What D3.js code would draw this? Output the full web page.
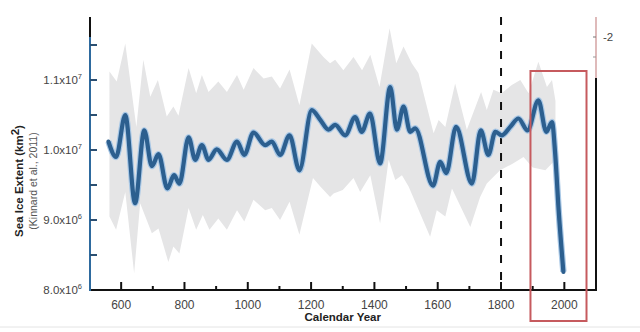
<!DOCTYPE html>
<html lang="en">
<head>
    <meta charset="UTF-8">
    <title>Sea Ice Extent</title>
    <script src="https://cdn.jsdelivr.net/npm/d3@7/dist/d3.min.js"></script>
    <style>
        body { margin: 0; background: #fff; }
        svg text { font-family: "Liberation Sans", Arial, sans-serif; }
        .tick-label { font-size: 11.5px; fill: #444; }
        .x-label { font-size: 12px; fill: #444; }
        .axis-title { font-size: 11.5px; font-weight: bold; fill: #222; }
    </style>
</head>
<body>
    <svg id="chart" width="640" height="332"></svg>
    <script>
        // reconstruction (x 10^6 km2)
        const lineYears = [560, 584, 613, 644, 673, 697, 718, 746, 767, 784, 813, 834, 855, 876, 902, 934, 966, 989,
            1018, 1055, 1076, 1102, 1132, 1163, 1202, 1229, 1255, 1276, 1308, 1339, 1360, 1386, 1418, 1450, 1471,
            1492, 1513, 1529, 1585, 1608, 1627, 1658, 1708, 1736, 1760, 1782, 1803, 1829, 1855, 1884, 1918, 1943,
            1961, 1971, 1982, 1997]
        const lineValues = [10.12, 9.90, 10.50, 9.24, 10.28, 9.77, 9.94, 9.45, 9.64, 9.52, 10.18, 9.86, 10.07, 9.86,
            10.01, 9.86, 10.12, 9.93, 10.25, 10.07, 10.12, 9.93, 10.21, 9.71, 10.57, 10.43, 10.29, 10.36, 10.21,
            10.47, 10.26, 10.52, 9.81, 10.90, 10.29, 10.62, 10.26, 10.31, 9.49, 9.83, 9.67, 10.33, 9.52, 10.28, 9.93,
            10.26, 10.21, 10.33, 10.45, 10.28, 10.71, 10.26, 10.40, 9.95, 9.14, 8.26]

        // uncertainty envelope
        const upperYears = [563, 586, 613, 648, 670, 692, 716, 744, 765, 781, 813, 837, 855, 876, 907, 934, 966, 987,
            1018, 1050, 1076, 1102, 1132, 1163, 1202, 1239, 1260, 1276, 1302, 1334, 1361, 1387, 1416, 1448, 1469,
            1492, 1518, 1539, 1587, 1603, 1624, 1655, 1692, 1737, 1755, 1776, 1802, 1834, 1861, 1887, 1918, 1945,
            1961, 1972]
        const upperValues = [11.12, 10.98, 11.52, 10.33, 11.29, 10.76, 11.00, 10.48, 10.62, 10.49, 11.17, 10.81, 11.07,
            10.83, 10.98, 10.83, 11.07, 10.86, 11.17, 11.02, 11.05, 10.88, 11.15, 10.64, 11.52, 11.33, 11.24, 11.29,
            11.14, 11.33, 11.14, 11.36, 10.90, 11.74, 11.24, 11.48, 11.24, 11.10, 10.24, 10.43, 10.33, 10.95, 10.29,
            10.83, 10.57, 10.86, 10.81, 10.93, 11.00, 10.81, 11.26, 10.90, 11.00, 10.70]
        const lowerYears = [563, 584, 613, 641, 660, 697, 718, 749, 765, 784, 813, 837, 858, 879, 907, 934, 966, 989,
            1018, 1055, 1076, 1102, 1132, 1163, 1206, 1229, 1260, 1271, 1300, 1334, 1355, 1387, 1418, 1445, 1466,
            1487, 1508, 1576, 1597, 1624, 1645, 1703, 1734, 1755, 1797, 1839, 1871, 1900, 1940, 1972]
        const lowerValues = [9.05, 8.86, 9.40, 8.24, 9.24, 8.81, 8.88, 8.40, 8.62, 8.52, 9.17, 8.86, 9.07, 8.86, 9.02,
            8.86, 9.14, 8.98, 9.29, 9.14, 9.17, 9.00, 9.26, 8.79, 9.60, 9.48, 9.33, 9.38, 9.43, 9.60, 9.40, 9.64,
            8.95, 9.86, 9.57, 9.64, 9.48, 8.76, 9.14, 9.05, 9.45, 8.90, 9.33, 9.52, 9.71, 9.81, 9.90, 9.75, 9.71, 9.86]

        const xTicks = [600, 800, 1000, 1200, 1400, 1600, 1800, 2000]
        const xMinorTicks = [700, 900, 1100, 1300, 1500, 1700, 1900]
        const yTicks = [8, 9, 10, 11]
        const yTickMantissa = ["8.0", "9.0", "1.0", "1.1"]
        const yTickExp = ["6", "6", "7", "7"]
        const yMinorTicks = [8.5, 9.5, 10.5, 11.5]
        const markYear = 1800
        const boxYears = [1893, 2070]

        const svg = d3.select("#chart")
        const x = d3.scaleLinear().domain([500, 2100]).range([89.5, 596])
        const y = d3.scaleLinear().domain([8, 11.9]).range([290, 17])

        // faint frame of the original figure
        svg.append("line").attr("x1", 0).attr("x2", 640).attr("y1", 327).attr("y2", 327)
            .attr("stroke", "#e4e4e4").attr("stroke-width", 1)

        // grey envelope
        const band = upperYears.map((d, i) => [d, upperValues[i]])
            .concat(lowerYears.map((d, i) => [d, lowerValues[i]]).reverse())
        svg.append("path")
            .attr("d", d3.line().x(d => x(d[0])).y(d => y(d[1]))(band) + "Z")
            .attr("fill", "#e5e5e6")

        // dashed marker
        svg.append("line")
            .attr("x1", x(markYear)).attr("x2", x(markYear)).attr("y1", 17).attr("y2", 290)
            .attr("stroke", "#111").attr("stroke-width", 2).attr("stroke-dasharray", "8,9")

        // main curve
        const pts = lineYears.map((d, i) => [d, lineValues[i]])
        const curve = d3.line().x(d => x(d[0])).y(d => y(d[1])).curve(d3.curveMonotoneX)
        svg.append("path").attr("d", curve(pts)).attr("fill", "none")
            .attr("stroke", "#a9c8e6").attr("stroke-width", 6.5).attr("stroke-linejoin", "round")
        svg.append("path").attr("d", curve(pts)).attr("fill", "none")
            .attr("stroke", "#2c5f8f").attr("stroke-width", 4.2).attr("stroke-linejoin", "round")
            .attr("stroke-linecap", "round")

        // x axis, ticks pointing up
        const xAxis = svg.append("g").attr("transform", "translate(0,290)")
        xAxis.append("line").attr("x1", 89).attr("x2", 597).attr("stroke", "#111").attr("stroke-width", 2)
        xAxis.selectAll(".maj").data(xTicks).enter().append("line")
            .attr("x1", d => x(d)).attr("x2", d => x(d)).attr("y1", 0).attr("y2", -8)
            .attr("stroke", "#111").attr("stroke-width", 2)
        xAxis.selectAll(".min").data(xMinorTicks).enter().append("line")
            .attr("x1", d => x(d)).attr("x2", d => x(d)).attr("y1", 0).attr("y2", -4)
            .attr("stroke", "#111").attr("stroke-width", 2)
        xAxis.selectAll(".lab").data(xTicks).enter().append("text")
            .attr("class", "x-label").attr("x", d => x(d)).attr("y", 19)
            .attr("text-anchor", "middle").text(d => d)
        svg.append("text").attr("class", "axis-title").attr("x", x(1300)).attr("y", 321)
            .attr("text-anchor", "middle").text("Calendar Year")

        // y axis
        const yAxis = svg.append("g").attr("transform", "translate(90,0)")
        yAxis.append("line").attr("y1", 17).attr("y2", 37).attr("stroke", "#111").attr("stroke-width", 2)
        yAxis.append("line").attr("y1", 37).attr("y2", 291).attr("stroke", "#2e6a9e").attr("stroke-width", 2)
        yAxis.selectAll(".tk").data(yTicks.concat(yMinorTicks).filter(d => d > 8)).enter().append("line")
            .attr("x1", 0).attr("x2", 7).attr("y1", d => y(d)).attr("y2", d => y(d))
            .attr("stroke", "#2a4f72").attr("stroke-width", 2)
        const yl = yAxis.selectAll(".lab").data(yTicks).enter().append("text")
            .attr("class", "tick-label").attr("x", -8).attr("y", d => y(d) + 4)
            .attr("text-anchor", "end")
        yl.append("tspan").text((d, i) => yTickMantissa[i] + "x10")
        yl.append("tspan").attr("dy", -5).attr("font-size", 7.5).text((d, i) => yTickExp[i])

        const yTitle = svg.append("text").attr("transform", "translate(23,181) rotate(-90)")
            .attr("text-anchor", "middle")
        yTitle.append("tspan").attr("class", "axis-title").attr("x", 0).attr("y", 0).text("Sea Ice Extent (km")
        yTitle.append("tspan").attr("class", "axis-title").attr("dy", -4).attr("font-size", 7.5).text("2")
        yTitle.append("tspan").attr("class", "axis-title").attr("dy", 4).text(")")
        svg.append("text").attr("transform", "translate(37,181) rotate(-90)")
            .attr("text-anchor", "middle").attr("font-size", 10.5).attr("fill", "#555")
            .text("(Kinnard et al., 2011)")

        // right axis (partial second panel)
        const rx = x(2100)
        svg.append("line").attr("x1", rx).attr("x2", rx).attr("y1", 17).attr("y2", 78)
            .attr("stroke", "#c98c8c").attr("stroke-width", 1.2)
        svg.append("line").attr("x1", rx).attr("x2", rx).attr("y1", 78).attr("y2", 291)
            .attr("stroke", "#111").attr("stroke-width", 2)
        svg.append("line").attr("x1", rx - 3).attr("x2", rx).attr("y1", 37).attr("y2", 37).attr("stroke", "#777")
        svg.append("line").attr("x1", rx - 3).attr("x2", rx).attr("y1", 57).attr("y2", 57).attr("stroke", "#999")
        svg.append("text").attr("class", "tick-label").attr("x", rx + 7).attr("y", 41).attr("fill", "#333")
            .text("-2")

        // highlight box
        svg.append("rect").attr("x", x(boxYears[0])).attr("y", 71)
            .attr("width", x(boxYears[1]) - x(boxYears[0])).attr("height", 250)
            .attr("fill", "none").attr("stroke", "#c65a5e").attr("stroke-width", 2)
    </script>
</body>
</html>
